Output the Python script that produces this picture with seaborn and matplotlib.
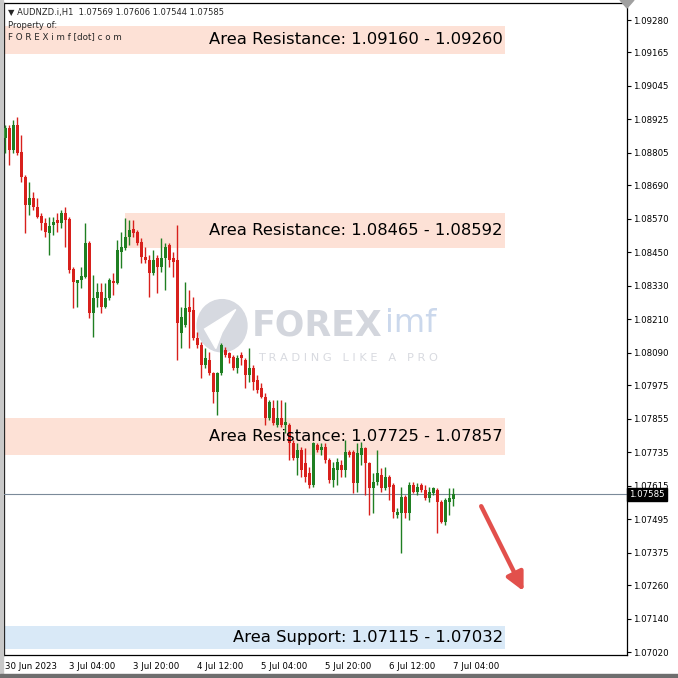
import numpy as np
import pandas as pd
import matplotlib
matplotlib.use("Agg")
import matplotlib.pyplot as plt
import seaborn as sns
from matplotlib.patches import Circle, Polygon, Rectangle

# AUDNZD H1 candles
opens = [1.08859, 1.08894, 1.08816, 1.08905, 1.08808, 1.08719, 1.08619, 1.08644, 1.08612, 1.08580,
         1.08555, 1.08519, 1.08547, 1.08565, 1.08555, 1.08590, 1.08569, 1.08390, 1.08340, 1.08351,
         1.08361, 1.08483, 1.08233, 1.08286, 1.08308, 1.08254, 1.08286, 1.08347, 1.08340, 1.08451,
         1.08465, 1.08505, 1.08533, 1.08522, 1.08487, 1.08433, 1.08422, 1.08376, 1.08429, 1.08397,
         1.08429, 1.08476, 1.08429, 1.08422, 1.08161, 1.08190, 1.08254, 1.08243, 1.08143, 1.08118,
         1.08047, 1.08065, 1.08018, 1.07950, 1.08018, 1.08100, 1.08090, 1.08075, 1.08036, 1.08083,
         1.08065, 1.08011, 1.08036, 1.07993, 1.07965, 1.07932, 1.07857, 1.07893, 1.07832, 1.07857,
         1.07832, 1.07832, 1.07768, 1.07714, 1.07743, 1.07696, 1.07661, 1.07618, 1.07761, 1.07743,
         1.07754, 1.07707, 1.07636, 1.07671, 1.07689, 1.07671, 1.07736, 1.07736, 1.07625, 1.07725,
         1.07750, 1.07696, 1.07607, 1.07628, 1.07653, 1.07607, 1.07646, 1.07618, 1.07510, 1.07518,
         1.07575, 1.07518, 1.07618, 1.07593, 1.07618, 1.07600, 1.07571, 1.07589, 1.07600, 1.07557,
         1.07485, 1.07557, 1.07569]
highs = [1.08905, 1.08905, 1.08923, 1.08934, 1.08869, 1.08726, 1.08701, 1.08665, 1.08644, 1.08590,
         1.08572, 1.08576, 1.08576, 1.08590, 1.08601, 1.08612, 1.08576, 1.08397, 1.08351, 1.08397,
         1.08555, 1.08490, 1.08369, 1.08340, 1.08340, 1.08340, 1.08358, 1.08376, 1.08494, 1.08522,
         1.08572, 1.08565, 1.08565, 1.08530, 1.08501, 1.08469, 1.08440, 1.08458, 1.08440, 1.08501,
         1.08483, 1.08483, 1.08451, 1.08547, 1.08254, 1.08344, 1.08315, 1.08290, 1.08165, 1.08129,
         1.08108, 1.08093, 1.08022, 1.08022, 1.08125, 1.08111, 1.08093, 1.08083, 1.08083, 1.08093,
         1.08072, 1.08108, 1.08047, 1.08011, 1.07982, 1.07947, 1.07922, 1.07922, 1.07922, 1.07922,
         1.07914, 1.07839, 1.07779, 1.07768, 1.07754, 1.07750, 1.07682, 1.07772, 1.07768, 1.07768,
         1.07768, 1.07714, 1.07700, 1.07714, 1.07707, 1.07779, 1.07743, 1.07743, 1.07768, 1.07771,
         1.07754, 1.07700, 1.07661, 1.07743, 1.07678, 1.07682, 1.07653, 1.07625, 1.07535, 1.07611,
         1.07582, 1.07628, 1.07628, 1.07625, 1.07625, 1.07618, 1.07611, 1.07611, 1.07607, 1.07564,
         1.07571, 1.07607, 1.07606]
lows = [1.08805, 1.08762, 1.08805, 1.08798, 1.08701, 1.08519, 1.08583, 1.08601, 1.08572, 1.08530,
        1.08505, 1.08440, 1.08512, 1.08522, 1.08537, 1.08469, 1.08376, 1.08251, 1.08254, 1.08322,
        1.08358, 1.08215, 1.08147, 1.08254, 1.08233, 1.08251, 1.08279, 1.08297, 1.08335, 1.08394,
        1.08458, 1.08476, 1.08505, 1.08476, 1.08412, 1.08412, 1.08290, 1.08369, 1.08304, 1.08379,
        1.08315, 1.08397, 1.08361, 1.08065, 1.08108, 1.08183, 1.08108, 1.08136, 1.08108, 1.08000,
        1.08036, 1.08011, 1.07911, 1.07868, 1.08011, 1.08075, 1.08054, 1.08029, 1.08018, 1.08047,
        1.07965, 1.07986, 1.07957, 1.07947, 1.07929, 1.07832, 1.07850, 1.07832, 1.07825, 1.07825,
        1.07804, 1.07707, 1.07707, 1.07653, 1.07646, 1.07628, 1.07607, 1.07611, 1.07736, 1.07725,
        1.07696, 1.07625, 1.07611, 1.07618, 1.07646, 1.07646, 1.07718, 1.07589, 1.07593, 1.07689,
        1.07582, 1.07510, 1.07518, 1.07618, 1.07593, 1.07600, 1.07564, 1.07500, 1.07500, 1.07375,
        1.07500, 1.07493, 1.07589, 1.07582, 1.07593, 1.07564, 1.07557, 1.07582, 1.07446, 1.07482,
        1.07475, 1.07510, 1.07544]
closes = [1.08894, 1.08816, 1.08905, 1.08805, 1.08719, 1.08619, 1.08644, 1.08612, 1.08576, 1.08555,
          1.08522, 1.08544, 1.08558, 1.08555, 1.08590, 1.08565, 1.08387, 1.08344, 1.08351, 1.08365,
          1.08483, 1.08233, 1.08286, 1.08308, 1.08254, 1.08286, 1.08351, 1.08340, 1.08458, 1.08469,
          1.08505, 1.08530, 1.08519, 1.08483, 1.08433, 1.08422, 1.08376, 1.08422, 1.08397, 1.08429,
          1.08469, 1.08422, 1.08415, 1.08197, 1.08218, 1.08251, 1.08236, 1.08143, 1.08118, 1.08047,
          1.08072, 1.08018, 1.07950, 1.08018, 1.08118, 1.08083, 1.08072, 1.08036, 1.08072, 1.08072,
          1.08011, 1.08036, 1.07986, 1.07957, 1.07932, 1.07857, 1.07914, 1.07839, 1.07857, 1.07832,
          1.07843, 1.07768, 1.07714, 1.07743, 1.07671, 1.07646, 1.07618, 1.07768, 1.07743, 1.07754,
          1.07707, 1.07636, 1.07678, 1.07700, 1.07671, 1.07736, 1.07725, 1.07625, 1.07732, 1.07750,
          1.07696, 1.07607, 1.07628, 1.07661, 1.07607, 1.07646, 1.07611, 1.07521, 1.07521, 1.07575,
          1.07518, 1.07618, 1.07593, 1.07611, 1.07600, 1.07571, 1.07593, 1.07607, 1.07557, 1.07485,
          1.07564, 1.07571, 1.07585]

price_ticks = [1.09280, 1.09165, 1.09045, 1.08925, 1.08805, 1.08690, 1.08570, 1.08450, 1.08330, 1.08210,
               1.08090, 1.07975, 1.07855, 1.07735, 1.07615, 1.07495, 1.07375, 1.07260, 1.07140, 1.07020]
time_ticks = [0, 16, 32, 48, 64, 80, 96, 112]
time_labels = ["30 Jun 2023", "3 Jul 04:00", "3 Jul 20:00", "4 Jul 12:00",
               "5 Jul 04:00", "5 Jul 20:00", "6 Jul 12:00", "7 Jul 04:00"]

zone_lo = [1.09160, 1.08465, 1.07725, 1.07032]
zone_hi = [1.09260, 1.08592, 1.07857, 1.07115]
zone_labels = ["Area Resistance: 1.09160 - 1.09260",
               "Area Resistance: 1.08465 - 1.08592",
               "Area Resistance: 1.07725 - 1.07857",
               "Area Support: 1.07115 - 1.07032"]
zone_start = [0.0, 0.194, 0.0, 0.0]
zone_colors = ["#fde1d6", "#fde1d6", "#fde1d6", "#d9e9f7"]
last_price = 1.07585

df = pd.DataFrame({"open": opens, "high": highs, "low": lows, "close": closes})
df["idx"] = np.arange(len(df))
df["up"] = df["close"] >= df["open"]

sns.set_theme(style="white")
plt.rcParams["font.family"] = ["DejaVu Sans"]

fig = plt.figure(figsize=(6.78, 6.78), dpi=100)
ax = fig.add_axes([4 / 678, 23 / 678, 623 / 678, 652 / 678])
ax.set_xlim(-0.33, 155.4)
ax.set_ylim(1.07010, 1.09341)

red = "#d8201c"
green = "#1f7f22"

# support / resistance zones
for lo, hi, lab, x0, col in zip(zone_lo, zone_hi, zone_labels, zone_start, zone_colors):
    ax.axhspan(lo, hi, xmin=x0, xmax=0.804, color=col, lw=0, zorder=1)
    ax.text(124.4, (lo + hi) / 2, lab, ha="right", va="center", fontsize=11.8,
            color="black", zorder=6)

# watermark
wm = dict(transform=ax.transAxes, zorder=2)
ax.add_patch(Circle((0.350, 0.505), 0.040, color="#d6d9e0", **wm))
ax.add_patch(Polygon([(0.322, 0.500), (0.372, 0.530), (0.350, 0.495), (0.340, 0.470)],
                     closed=True, color="white", **wm))
ax.text(0.398, 0.505, "FOREX", fontsize=25, fontweight="bold", color="#d3d6dd",
        ha="left", va="center", **wm)
ax.text(0.611, 0.508, "imf", fontsize=23, color="#cbd8ec", ha="left", va="center", **wm)
ax.text(0.408, 0.456, "T R A D I N G   L I K E   A   P R O", fontsize=8.2, color="#d8dae0",
        ha="left", va="center", **wm)

# candles
for up, col in [(True, green), (False, red)]:
    d = df[df["up"] == up]
    ax.vlines(d["idx"], d["low"], d["high"], color=col, lw=1.0, zorder=4)
    ax.bar(d["idx"], (d["close"] - d["open"]).abs().clip(lower=0.00003),
           bottom=d[["open", "close"]].min(axis=1), width=0.72, color=col, lw=0, zorder=5)

# current price line
ax.axhline(last_price, color="#7b8a99", lw=0.8, zorder=3)

ax.yaxis.tick_right()
ax.set_yticks(price_ticks)
ax.set_yticklabels([f"{p:.5f}" for p in price_ticks])
ax.set_xticks(time_ticks)
ax.set_xticklabels(time_labels, ha="left")
ax.tick_params(axis="both", labelsize=6.2, length=3, width=0.8, direction="out",
               colors="black", pad=1.5)
ax.tick_params(axis="x", pad=2)
for s in ax.spines.values():
    s.set_color("black")
    s.set_linewidth(0.9)

ax.text(1.004, last_price, f"{last_price:.5f}", transform=ax.get_yaxis_transform(),
        fontsize=6.2, color="white", ha="left", va="center", zorder=10,
        bbox=dict(boxstyle="square,pad=0.25", fc="black", ec="black"))

# header
ax.text(0.006, 0.986, "\u25bc AUDNZD.i,H1  1.07569 1.07606 1.07544 1.07585", transform=ax.transAxes,
        fontsize=6.0, ha="left", va="center", zorder=7)
ax.text(0.006, 0.966, "Property of:", transform=ax.transAxes, fontsize=6.0, ha="left", va="center", zorder=7)
ax.text(0.006, 0.948, "F O R E X i m f [dot] c o m", transform=ax.transAxes, fontsize=6.3,
        ha="left", va="center", zorder=7)

# trend arrow
ax.annotate("", xy=(0.836, 0.094), xytext=(0.764, 0.232), xycoords="axes fraction",
            arrowprops=dict(arrowstyle="-|>,head_length=0.9,head_width=0.45", color="#e2504c", lw=3.2),
            zorder=8)

# screenshot frame
fig.patches.append(Rectangle((0, 0), 3 / 678, 1, transform=fig.transFigure, color="#c8c8c8", zorder=0))
fig.patches.append(Rectangle((0, 0), 1, 4 / 678, transform=fig.transFigure, color="#6e6e6e", zorder=0))
fig.patches.append(Polygon([(620 / 678, 1), (634 / 678, 1), (627 / 678, 670 / 678)], closed=True,
                           transform=fig.transFigure, color="#a0a0a0", zorder=5))

fig.savefig("out.png", dpi=100, facecolor="white")
